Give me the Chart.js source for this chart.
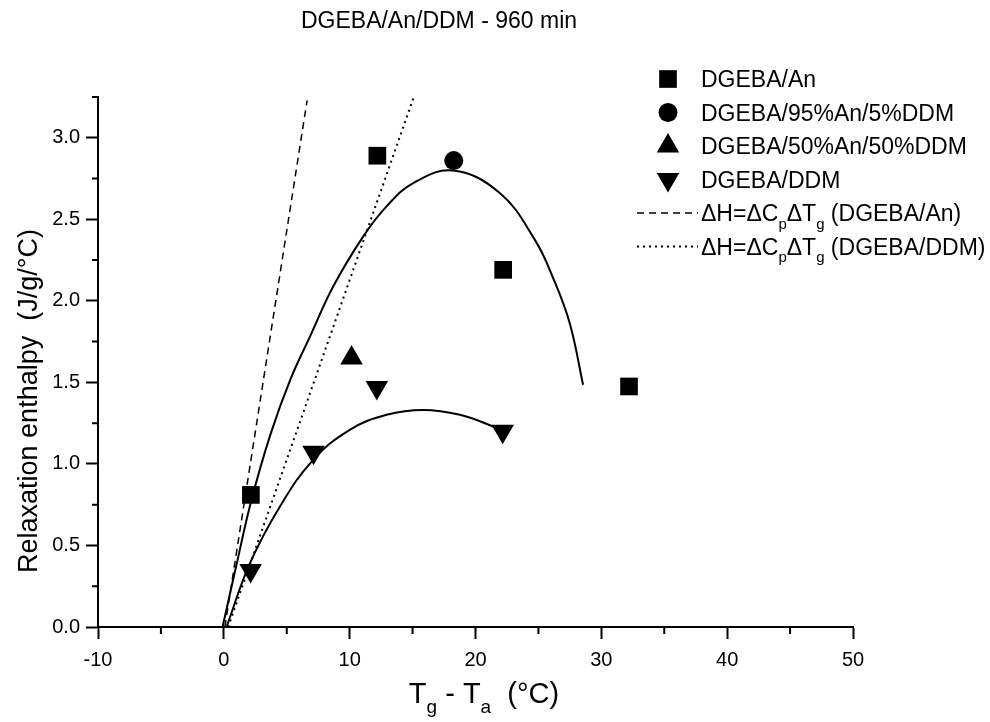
<!DOCTYPE html>
<html>
<head>
<meta charset="utf-8">
<script src="https://cdn.jsdelivr.net/npm/chart.js@4.4.1/dist/chart.umd.min.js"></script>
<style>
  html, body { margin: 0; background: #fff; }
  canvas { display: block; }
</style>
</head>
<body>
<canvas id="chart" width="990" height="722"></canvas>
<script>
// values
const titleText = 'DGEBA/An/DDM - 960 min';
const xTitle = 'T_g - T_a  (°C)';
const yTitle = 'Relaxation enthalpy  (J/g/°C)';

const anX = [2.15, 12.2, 22.2, 32.2];
const anY = [0.81, 2.89, 2.19, 1.475];
const an95X = [18.27];
const an95Y = [2.86];
const an50X = [10.15];
const an50Y = [1.65];
const ddmX = [2.13, 7.13, 12.16, 22.16];
const ddmY = [0.347, 1.072, 1.469, 1.2];

// ΔH = ΔCp·ΔTg reference lines
const refAnX = [0.08, 6.62];
const refAnY = [0, 3.23];
const refDdmX = [0.34, 15.05];
const refDdmY = [0, 3.24];

// hand-drawn fit curves
const fitUpX = [-0.1, 1.0, 2.2, 3.7, 5.3, 6.9, 8.69, 11.07, 12.93, 15.05, 18.22, 21.93, 24.72, 26.17, 27.5, 28.55];
const fitUpY = [0, 0.38, 0.78, 1.18, 1.52, 1.79, 2.088, 2.394, 2.579, 2.722, 2.799, 2.661, 2.374, 2.14, 1.86, 1.485];
const fitLowX = [0.21, 2.07, 4.45, 7.1, 10.01, 12.93, 15.84, 18.76, 21.4, 21.8];
const fitLowY = [0, 0.39, 0.738, 1.025, 1.209, 1.301, 1.331, 1.301, 1.229, 1.21];

const legendLabels = ['DGEBA/An', 'DGEBA/95%An/5%DDM', 'DGEBA/50%An/50%DDM', 'DGEBA/DDM',
  'ΔH=ΔC_pΔT_g (DGEBA/An)', 'ΔH=ΔC_pΔT_g (DGEBA/DDM)'];

const FONT = '"Liberation Sans", Arial, Helvetica, sans-serif';
const pts = (xs, ys) => xs.map((x, i) => ({ x: x, y: ys[i] }));

const markerSet = (label, xs, ys, style, r, rot) => ({
  label: label, inLegend: true, data: pts(xs, ys), showLine: false,
  pointStyle: style, pointRadius: r, pointRotation: rot || 0,
  pointBackgroundColor: '#000', pointBorderWidth: 0, backgroundColor: '#000', borderColor: '#000'
});
const lineSet = (label, xs, ys, dash, width, legend, tension) => ({
  label: label, inLegend: legend, data: pts(xs, ys), showLine: true, pointRadius: 0,
  borderColor: '#000', borderWidth: width, borderDash: dash, tension: tension || 0, fill: false
});

const datasets = [
  markerSet(legendLabels[0], anX, anY, 'rect', 12.5),
  markerSet(legendLabels[1], an95X, an95Y, 'circle', 9.5),
  markerSet(legendLabels[2], an50X, an50Y, 'triangle', 13),
  markerSet(legendLabels[3], ddmX, ddmY, 'triangle', 13, 180),
  lineSet(legendLabels[4], refAnX, refAnY, [7, 5], 1.5, true),
  lineSet(legendLabels[5], refDdmX, refDdmY, [2, 4], 2, true),
  lineSet('fit An', fitUpX, fitUpY, [], 2, false, 0.4),
  lineSet('fit DDM', fitLowX, fitLowY, [], 2, false, 0.4)
];

// text with _x subscripts
function drawRich(ctx, text, x, y, size, align) {
  const sub = Math.round(size * 0.65);
  const parts = [];
  for (let i = 0; i < text.length; i++) {
    if (text[i] === '_' && i + 1 < text.length) { parts.push({ t: text[i + 1], s: true }); i++; }
    else {
      const last = parts[parts.length - 1];
      if (last && !last.s) last.t += text[i]; else parts.push({ t: text[i], s: false });
    }
  }
  const w = p => { ctx.font = (p.s ? sub : size) + 'px ' + FONT; return ctx.measureText(p.t).width; };
  const total = parts.reduce((a, p) => a + w(p), 0);
  let cx = align === 'center' ? x - total / 2 : x;
  ctx.textAlign = 'left';
  ctx.textBaseline = 'alphabetic';
  parts.forEach(p => {
    const pw = w(p);
    ctx.fillText(p.t, cx, p.s ? y + size * 0.34 : y);
    cx += pw;
  });
}

const decor = {
  id: 'decor',
  afterDraw(chart) {
    const ctx = chart.ctx;
    const xs = chart.scales.x, ys = chart.scales.y;
    ctx.save();
    ctx.fillStyle = '#000';
    ctx.strokeStyle = '#000';
    ctx.lineWidth = 2;

    // minor ticks
    ctx.beginPath();
    for (let v = -5; v < 50; v += 10) {
      const px = xs.getPixelForValue(v);
      ctx.moveTo(px, ys.bottom); ctx.lineTo(px, ys.bottom + 7);
    }
    for (let v = 0.25; v <= 3.25 + 1e-9; v += 0.5) {
      const py = ys.getPixelForValue(v);
      ctx.moveTo(xs.left, py); ctx.lineTo(xs.left - 6, py);
    }
    ctx.stroke();

    // titles
    drawRich(ctx, titleText, 439, 28, 23, 'center');
    drawRich(ctx, xTitle, 484, 703, 29, 'center');
    ctx.save();
    ctx.translate(37, 401);
    ctx.rotate(-Math.PI / 2);
    ctx.font = '27px ' + FONT;
    ctx.textAlign = 'center';
    ctx.textBaseline = 'alphabetic';
    ctx.fillText(yTitle, 0, 0);
    ctx.restore();

    // legend
    let row = 0;
    chart.data.datasets.forEach(ds => {
      if (!ds.inLegend) return;
      const y = 79 + row * 33.5;
      if (ds.showLine) {
        ctx.save();
        ctx.lineWidth = ds.borderWidth;
        ctx.setLineDash(ds.borderDash);
        ctx.beginPath();
        ctx.moveTo(637, y); ctx.lineTo(698, y);
        ctx.stroke();
        ctx.restore();
      } else {
        Chart.helpers.drawPoint(ctx, {
          pointStyle: ds.pointStyle, radius: ds.pointRadius, rotation: ds.pointRotation, borderWidth: 0
        }, 668, y);
      }
      ctx.fillStyle = '#000';
      drawRich(ctx, ds.label, 701, y + 8, 23);
      row++;
    });
    ctx.restore();
  }
};

const axisCommon = {
  border: { display: true, color: '#000', width: 2 },
  grid: { display: true, drawOnChartArea: false, drawTicks: true, tickLength: 12, tickColor: '#000', tickWidth: 2 }
};

new Chart(document.getElementById('chart').getContext('2d'), {
  type: 'scatter',
  data: { datasets: datasets },
  options: {
    responsive: false,
    animation: false,
    devicePixelRatio: 1,
    layout: { padding: { top: 97, right: 137, left: 0, bottom: 0 } },
    plugins: { legend: { display: false }, tooltip: { enabled: false }, title: { display: false } },
    scales: {
      x: Object.assign({}, axisCommon, {
        type: 'linear', min: -10, max: 50,
        afterFit: s => { s.height = 95; },
        ticks: { stepSize: 10, color: '#000', font: { family: FONT, size: 20 }, padding: 9,
          maxRotation: 0, autoSkip: false, callback: v => String(v) }
      }),
      y: Object.assign({}, axisCommon, {
        type: 'linear', min: 0, max: 3.25,
        afterFit: s => { s.width = 98; },
        ticks: { stepSize: 0.5, includeBounds: false, color: '#000', font: { family: FONT, size: 20 }, padding: 6,
          callback: v => v.toFixed(1) }
      })
    }
  },
  plugins: [decor]
});
</script>
</body>
</html>
